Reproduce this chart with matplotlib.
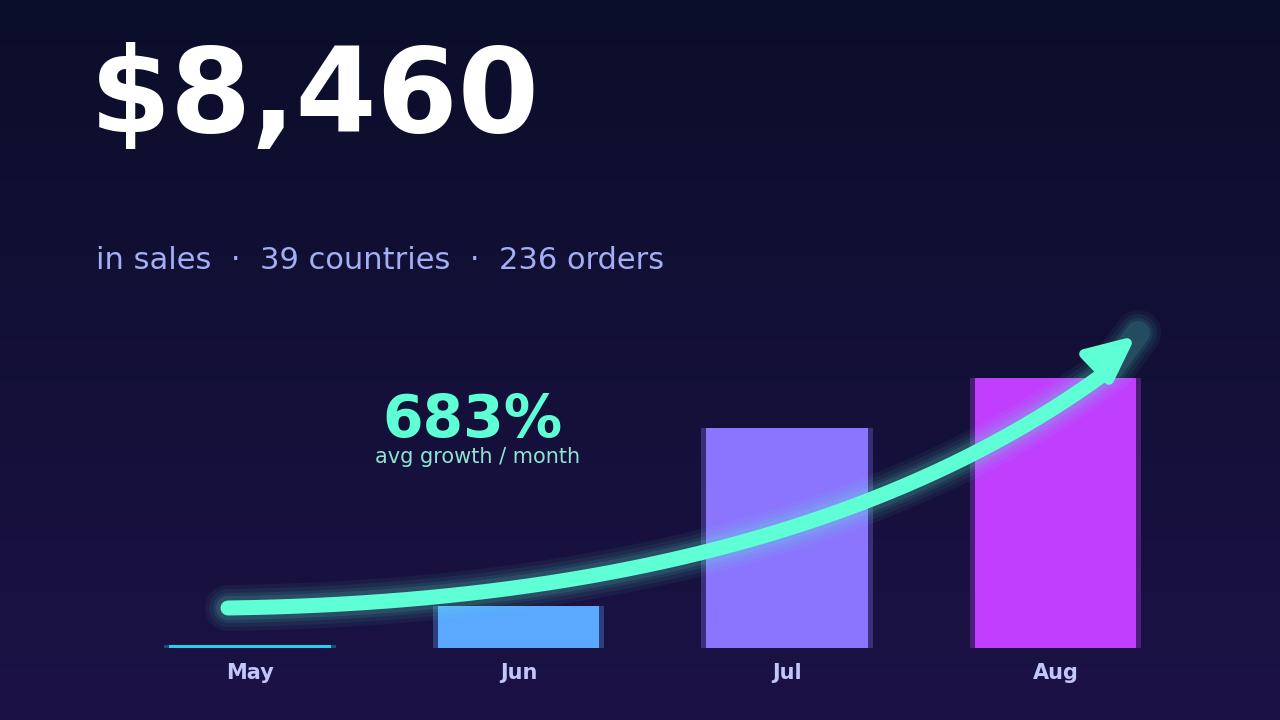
import numpy as np
import matplotlib
matplotlib.use("Agg")
import matplotlib.pyplot as plt
from matplotlib.patches import Polygon
from matplotlib.lines import Line2D

months = ["May", "Jun", "Jul", "Aug"]
sales = [40, 660, 3480, 4280]
bar_colors = ["#22d3ee", "#5aa8ff", "#8b75ff", "#c03fff"]
headline = "$8,460"
subtitle = "in sales  ·  39 countries  ·  236 orders"
growth_label = "683%"
growth_caption = "avg growth / month"

W, H = 1280, 720
fig = plt.figure(figsize=(12.8, 7.2), dpi=100)

# background gradient
bg = fig.add_axes([0, 0, 1, 1])
top = np.array([11, 14, 42]) / 255
bot = np.array([28, 18, 70]) / 255
t = np.linspace(0, 1, 256)[:, None]
grad = top[None, :] * (1 - t) + bot[None, :] * t
bg.imshow(grad[:, None, :].repeat(2, axis=1), aspect="auto", extent=[0, 1, 0, 1])
bg.set_axis_off()

def px(x, y):
    return (x / W, 1 - y / H)

PT = 0.72  # points per pixel at dpi 100

# bar axes
left_px, right_px = 115.75, 1189.75
top_px, base_px = 320, 648
ax = fig.add_axes([left_px / W, 1 - base_px / H, (right_px - left_px) / W, (base_px - top_px) / H])
ax.set_facecolor("none")
ax.set_xlim(-0.5, 3.5)
ymax = 4280 * (base_px - top_px) / 270
ax.set_ylim(0, ymax)
x = np.arange(len(months))
bw = 0.6
for i, (v, c) in enumerate(zip(sales, bar_colors)):
    ax.bar(i, v, width=bw + 0.04, color=c, alpha=0.3, zorder=1)
    ax.bar(i, v, width=bw, color=c, zorder=2)
for s in ax.spines.values():
    s.set_visible(False)
ax.set_yticks([])
ax.set_xticks(x)
ax.set_xticklabels(months, fontsize=15, fontweight="bold", color="#c3c6fb")
ax.tick_params(axis="x", length=0, pad=11)

# curved arrow (decoration in pixel space)
P0 = np.array([228, 608])
C = np.array([800, 600])
P2 = np.array([1112, 368])
tt = np.linspace(0, 1, 200)[:, None]
curve = (1 - tt) ** 2 * P0 + 2 * (1 - tt) * tt * C + tt ** 2 * P2
cx, cy = curve[:, 0] / W, 1 - curve[:, 1] / H
glow_ext = np.vstack([curve, [[1138, 333]]])
gx, gy = glow_ext[:, 0] / W, 1 - glow_ext[:, 1] / H
for lw, a in [(46, 0.05), (38, 0.06), (30, 0.08), (24, 0.1)]:
    fig.add_artist(Line2D(gx, gy, transform=fig.transFigure, color="#5effd4",
                          lw=lw * PT, alpha=a, solid_capstyle="round", zorder=5))
fig.add_artist(Line2D(cx, cy, transform=fig.transFigure, color="#5effd4",
                      lw=15 * PT, solid_capstyle="round", zorder=6))
head = np.array([[1084, 354], [1127, 343], [1109, 380]])
hx = [px(*p) for p in head]
fig.add_artist(Polygon(hx, closed=True, transform=fig.transFigure, facecolor="#5effd4",
                       edgecolor="#5effd4", lw=7, joinstyle="round", zorder=7))

# texts
fig.text(90 / W, 1 - 132 / H, headline, fontsize=84, fontweight="bold", color="white",
         ha="left", va="baseline")
fig.text(96 / W, 1 - 269 / H, subtitle, fontsize=22, color="#a3aef5", ha="left", va="baseline")
fig.text(473 / W, 1 - 437 / H, growth_label, fontsize=42, fontweight="bold", color="#5effd4",
         ha="center", va="baseline")
fig.text(478 / W, 1 - 463 / H, growth_caption, fontsize=15, color="#8fe3cf",
         ha="center", va="baseline")

fig.savefig("out.png", dpi=100)
